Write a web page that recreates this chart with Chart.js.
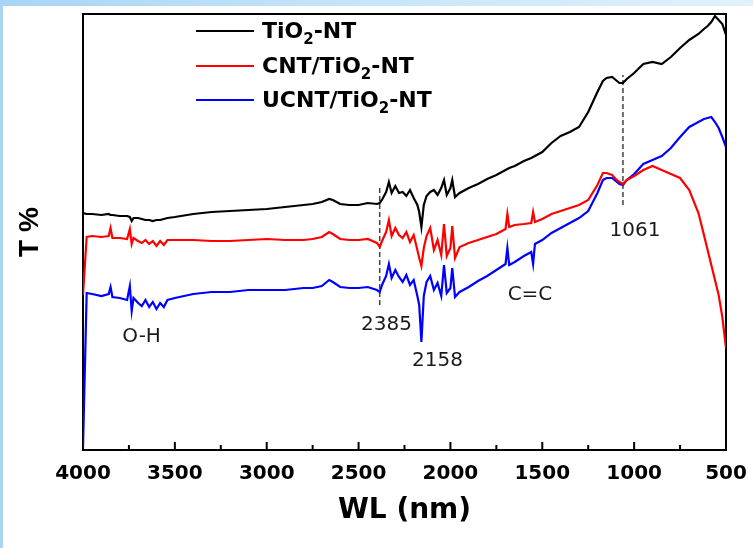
<!DOCTYPE html>
<html>
<head>
<meta charset="utf-8">
<script src="https://cdn.jsdelivr.net/npm/chart.js@4.4.0/dist/chart.umd.min.js"></script>
<style>
  html, body { margin: 0; padding: 0; }
  body {
    width: 753px; height: 548px; overflow: hidden; position: relative;
    background: linear-gradient(90deg, #a9d5f5 0%, #c8e5f9 50%, #e2f1fc 100%);
  }
  #wrap { position: absolute; left: 3px; top: 6px; width: 750px; height: 542px; background: #fff; }
</style>
</head>
<body>
<div id="wrap"><canvas id="ftir" width="750" height="542"></canvas></div>
<script>
// wavelength grid (nm), shared by all three spectra
const wavelength = [
  4000, 3980, 3950, 3900, 3860, 3850, 3840, 3800, 3760, 3745, 3735, 3725,
  3700, 3680, 3660, 3640, 3620, 3600, 3580, 3560, 3540,
  3500, 3400, 3300, 3200, 3100, 3000, 2900,
  2800, 2750, 2700, 2660, 2640, 2600, 2550, 2500, 2450, 2400,
  2385, 2370, 2350, 2335, 2320, 2300, 2280, 2260, 2240, 2220, 2200, 2180,
  2170, 2158, 2145, 2130, 2110, 2090, 2070, 2050, 2035, 2020, 2000, 1990, 1975,
  1950, 1900, 1850, 1800, 1750, 1700, 1690, 1680, 1650, 1600, 1560, 1550, 1540,
  1500, 1450, 1400, 1350, 1300, 1250, 1200, 1170, 1150, 1120, 1100, 1080, 1061, 1040,
  1000, 950, 900, 850, 800, 750, 700, 650, 620, 600, 580, 560, 540, 520,
  500
];

// T % (arbitrary units, no scale shown on the figure)
const tio2NT = [
  237, 236, 236, 235, 236, 235, 235, 234, 234, 233, 229, 232,
  232, 231, 230, 230, 229, 230, 230, 231, 232,
  233, 236, 238, 239, 240, 241, 243,
  245, 246, 248, 251, 250, 246, 245, 245, 247, 246,
  247, 251, 258, 268, 257, 264, 257, 258, 254, 260, 252, 245,
  238, 223, 245, 254, 258, 260, 255, 262, 270, 255, 262, 270, 253,
  257, 262, 266, 271, 275, 280, 281, 282, 284, 289, 292, 293, 294,
  298, 307, 314, 318, 323, 338, 358, 369, 372, 373, 370, 367, 367, 371,
  377, 386, 388, 386, 393, 402, 410, 416, 421, 424, 428, 434, 430, 426,
  415
];

const cntTiO2NT = [
  155, 213, 214, 213, 214, 222, 212, 212, 211, 221, 206, 212,
  209, 207, 210, 206, 209, 204, 209, 205, 210,
  210, 210, 209, 209, 210, 211, 210,
  210, 211, 213, 218, 216, 211, 210, 210, 211, 207,
  203, 210, 218, 230, 214, 222, 215, 212, 218, 208, 215, 200,
  192, 184, 202, 214, 222, 200, 210, 195, 226, 194, 202, 224, 192,
  203, 207, 210, 213, 216, 221, 236, 223, 225, 226, 227, 238, 228,
  231, 236, 239, 242, 245, 250, 265, 277, 277, 275, 271, 268, 266, 270,
  274, 280, 284, 280, 276, 272, 260, 237, 215, 200, 185, 170, 155, 133,
  102
];

const ucntTiO2NT = [
  2, 157, 156, 154, 156, 163, 153, 152, 150, 164, 139, 152,
  147, 144, 150, 143, 148, 141, 147, 143, 150,
  152, 156, 158, 158, 160, 160, 160,
  162, 162, 164, 170, 168, 163, 162, 162, 163, 160,
  158, 166, 174, 186, 172, 180, 173, 168, 175, 165, 170, 154,
  145, 108, 154, 168, 174, 160, 167, 154, 185, 157, 162, 182, 153,
  158, 163, 169, 174, 180, 186, 202, 185, 188, 194, 198, 186, 206,
  210, 217, 222, 227, 232, 239, 257, 270, 272, 272, 269, 266, 265, 270,
  276, 286, 290, 294, 302, 313, 323, 328, 331, 332, 333, 328, 322, 313,
  303
];

const seriesNames = ['TiO₂-NT', 'CNT/TiO₂-NT', 'UCNT/TiO₂-NT'];
const seriesColors = ['#000000', '#ff0000', '#0000ff'];

// dashed guide lines at the marked bands
const markWl = [2385, 1061];
const markFrom = [145, 245];
const markTo = [265, 375];

// band labels (wavelength, T)
const peakText = ['O-H', '2385', '2158', 'C=C', '1061'];
const peakWl = [3681, 2348, 2070, 1567, 995];
const peakT = [113, 125, 89, 155, 219];

const xTicks = [4000, 3500, 3000, 2500, 2000, 1500, 1000, 500];

function toPoints(ys) {
  return wavelength.map((w, i) => ({ x: w, y: ys[i] }));
}

const datasets = [tio2NT, cntTiO2NT, ucntTiO2NT].map((ys, i) => ({
  label: seriesNames[i],
  data: toPoints(ys),
  borderColor: seriesColors[i],
  borderWidth: 2.2,
  pointRadius: 0,
  tension: 0
}));

markWl.forEach((w, i) => {
  datasets.push({
    label: 'mark' + i,
    data: [{ x: w, y: markFrom[i] }, { x: w, y: markTo[i] }],
    borderColor: '#444',
    borderWidth: 1.5,
    borderDash: [5, 3],
    pointRadius: 0
  });
});

function drawChem(ctx, text, x, y) {
  const parts = text.split('₂');
  let cx = x;
  parts.forEach((p, i) => {
    ctx.font = 'bold 22px "DejaVu Sans"';
    ctx.fillText(p, cx, y);
    cx += ctx.measureText(p).width;
    if (i < parts.length - 1) {
      ctx.font = 'bold 15px "DejaVu Sans"';
      ctx.fillText('2', cx, y + 6);
      cx += ctx.measureText('2').width;
    }
  });
}

const decorations = {
  id: 'decorations',
  beforeDatasetsDraw(chart) {
    const { ctx, chartArea: a, scales: { x } } = chart;
    ctx.save();
    ctx.strokeStyle = '#000';
    ctx.lineWidth = 2;
    ctx.strokeRect(a.left, a.top, a.right - a.left, a.bottom - a.top);
    // inward ticks: major every 500, minor between
    for (let v = 500; v <= 4000; v += 250) {
      const px = x.getPixelForValue(v);
      const len = v % 500 === 0 ? 8 : 5;
      ctx.beginPath();
      ctx.moveTo(px, a.bottom);
      ctx.lineTo(px, a.bottom - len);
      ctx.stroke();
    }
    ctx.restore();
  },
  afterDatasetsDraw(chart) {
    const { ctx, scales: { x, y } } = chart;
    ctx.save();
    // legend
    const rows = [25, 60, 94];
    for (let i = 0; i < 3; i++) {
      ctx.strokeStyle = seriesColors[i];
      ctx.lineWidth = 2;
      ctx.beginPath();
      ctx.moveTo(193, rows[i]);
      ctx.lineTo(251, rows[i]);
      ctx.stroke();
      ctx.fillStyle = '#000';
      ctx.textAlign = 'left';
      ctx.textBaseline = 'alphabetic';
      drawChem(ctx, seriesNames[i], 259, rows[i] + 7);
    }
    // band labels
    ctx.font = '20px "DejaVu Sans"';
    ctx.fillStyle = '#1a1a1a';
    ctx.textAlign = 'center';
    ctx.textBaseline = 'middle';
    peakText.forEach((t, i) => {
      ctx.fillText(t, x.getPixelForValue(peakWl[i]), y.getPixelForValue(peakT[i]));
    });
    ctx.restore();
  }
};

new Chart(document.getElementById('ftir'), {
  type: 'line',
  data: { datasets },
  options: {
    responsive: false,
    animation: false,
    layout: { padding: { top: 8, right: 27, left: 0, bottom: 0 } },
    plugins: { legend: { display: false }, tooltip: { enabled: false } },
    scales: {
      x: {
        type: 'linear',
        reverse: true,
        min: 500,
        max: 4000,
        afterBuildTicks: (scale) => { scale.ticks = xTicks.map(v => ({ value: v })); },
        afterFit: (scale) => {
          scale.height = 98;
          scale.paddingLeft = 0;
          scale.paddingRight = 0;
        },
        grid: { display: false, drawTicks: false },
        border: { display: false },
        ticks: {
          color: '#000',
          padding: 12,
          callback: (v) => String(v),
          font: { family: 'DejaVu Sans', size: 20, weight: 'bold' }
        },
        title: {
          display: true,
          text: 'WL (nm)',
          color: '#000',
          font: { family: 'DejaVu Sans', size: 28, weight: 'bold' },
          padding: { top: 0, bottom: 20 }
        }
      },
      y: {
        min: 0,
        max: 436,
        afterFit: (scale) => { scale.width = 80; },
        grid: { display: false, drawTicks: false },
        border: { display: false },
        ticks: { display: false },
        title: {
          display: true,
          text: 'T %',
          color: '#000',
          font: { family: 'Liberation Sans', size: 28, weight: 'bold' },
          padding: { top: 10, bottom: 0 }
        }
      }
    }
  },
  plugins: [decorations]
});
</script>
</body>
</html>
